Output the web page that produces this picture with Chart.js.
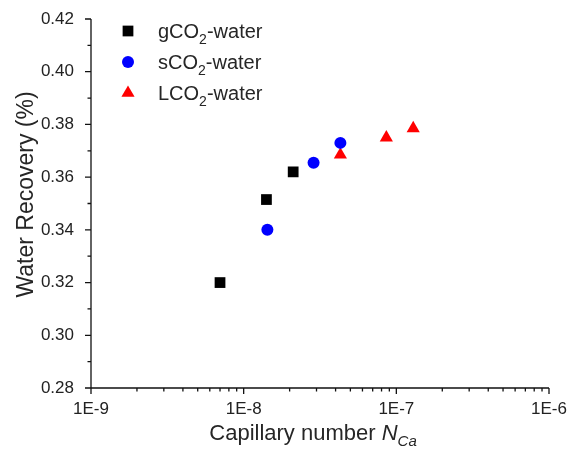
<!DOCTYPE html>
<html>
<head>
<meta charset="utf-8">
<script src="https://cdn.jsdelivr.net/npm/chart.js@4/dist/chart.umd.min.js"></script>
<style>
  html, body { margin: 0; padding: 0; background: #fff; }
  #wrap { width: 571px; height: 452px; position: relative; }
</style>
</head>
<body>
<div id="wrap"><canvas id="c"></canvas></div>
<script>
// Water recovery vs. capillary number for three CO2 phases
const seriesNames = ['gCO2-water', 'sCO2-water', 'LCO2-water'];

const gCO2Ca = [7.0e-9, 1.41e-8, 2.11e-8];
const gCO2Recovery = [0.320, 0.3515, 0.362];

const sCO2Ca = [1.43e-8, 2.87e-8, 4.3e-8];
const sCO2Recovery = [0.340, 0.3655, 0.373];

const LCO2Ca = [4.3e-8, 8.6e-8, 1.29e-7];
const LCO2Recovery = [0.3685, 0.375, 0.3785];

const xMajorTicks = [1e-9, 1e-8, 1e-7, 1e-6];
const xTickLabels = ['1E-9', '1E-8', '1E-7', '1E-6'];
const xMinorMultipliers = [2, 3, 4, 5, 6, 7, 8, 9];

const yMajorTicks = [0.28, 0.30, 0.32, 0.34, 0.36, 0.38, 0.40, 0.42];
const yTickLabels = ['0.28', '0.30', '0.32', '0.34', '0.36', '0.38', '0.40', '0.42'];
const yMinorTicks = [0.29, 0.31, 0.33, 0.35, 0.37, 0.39, 0.41];

const FONT = "'Liberation Sans', Arial, sans-serif";

const xMinorTicks = [];
xMajorTicks.slice(0, -1).forEach(d => xMinorMultipliers.forEach(m => xMinorTicks.push(m * d)));

const toPoints = (xs, ys) => xs.map((x, i) => ({ x, y: ys[i] }));

// Split "xCO2-water" into normal / subscript / normal pieces
function labelParts(name) {
  const m = name.match(/^(.*CO)(2)(.*)$/);
  return m ? [[m[1], false], [m[2], true], [m[3], false]] : [[name, false]];
}

function drawRich(ctx, parts, x, y, size, subSize, italicFlags, align) {
  const widths = parts.map((p, i) => {
    ctx.font = (italicFlags && italicFlags[i] ? 'italic ' : '') + (p[1] ? subSize : size) + 'px ' + FONT;
    return ctx.measureText(p[0]).width;
  });
  const total = widths.reduce((a, b) => a + b, 0);
  let cx = align === 'center' ? x - total / 2 : x;
  parts.forEach((p, i) => {
    ctx.font = (italicFlags && italicFlags[i] ? 'italic ' : '') + (p[1] ? subSize : size) + 'px ' + FONT;
    ctx.fillText(p[0], cx, p[1] ? y + size * 0.28 : y);
    cx += widths[i];
  });
}

const axisFrame = {
  id: 'axisFrame',
  afterDraw(chart) {
    const { ctx, chartArea: a, scales: { x, y } } = chart;
    ctx.save();
    ctx.strokeStyle = '#111';
    ctx.lineWidth = 1.3;
    ctx.beginPath();
    ctx.moveTo(a.left, a.top);
    ctx.lineTo(a.left, a.bottom);
    ctx.lineTo(a.right, a.bottom);
    xMajorTicks.forEach(v => {
      const px = x.getPixelForValue(v);
      ctx.moveTo(px, a.bottom); ctx.lineTo(px, a.bottom + 6);
    });
    xMinorTicks.forEach(v => {
      const px = x.getPixelForValue(v);
      ctx.moveTo(px, a.bottom); ctx.lineTo(px, a.bottom + 3.5);
    });
    yMajorTicks.forEach(v => {
      const py = y.getPixelForValue(v);
      ctx.moveTo(a.left, py); ctx.lineTo(a.left - 6, py);
    });
    yMinorTicks.forEach(v => {
      const py = y.getPixelForValue(v);
      ctx.moveTo(a.left, py); ctx.lineTo(a.left - 3.5, py);
    });
    ctx.stroke();

    // axis titles
    ctx.fillStyle = '#262626';
    ctx.textBaseline = 'alphabetic';
    ctx.textAlign = 'left';
    drawRich(ctx, [['Capillary number ', false], ['N', false], ['Ca', true]],
      (a.left + a.right) / 2 - 7, chart.height - 12, 22, 15, [false, true, true], 'center');

    ctx.translate(27, (a.top + a.bottom) / 2 - 9);
    ctx.rotate(-Math.PI / 2);
    ctx.textAlign = 'center';
    ctx.textBaseline = 'middle';
    ctx.font = '23px ' + FONT;
    ctx.fillText('Water Recovery (%)', 0, 0);
    ctx.restore();
  }
};

const seriesKey = {
  id: 'seriesKey',
  afterDraw(chart) {
    const { ctx, chartArea: a } = chart;
    const mx = a.left + 37, my = a.top + 12, gap = 31;
    chart.data.datasets.forEach((ds, i) => {
      const yy = my + i * gap;
      ctx.save();
      ctx.fillStyle = ds.backgroundColor;
      ctx.strokeStyle = ds.backgroundColor;
      Chart.helpers.drawPoint(ctx, {
        pointStyle: ds.pointStyle, radius: ds.pointRadius, rotation: 0, borderWidth: 0
      }, mx, yy);
      ctx.fillStyle = '#262626';
      ctx.textBaseline = 'alphabetic';
      ctx.textAlign = 'left';
      drawRich(ctx, labelParts(ds.label), mx + 30, yy + 7, 20, 14, null, 'left');
      ctx.restore();
    });
  }
};

new Chart(document.getElementById('c'), {
  type: 'scatter',
  data: {
    datasets: [
      { label: seriesNames[0], data: toPoints(gCO2Ca, gCO2Recovery),
        pointStyle: 'rect', pointRadius: 7.6, backgroundColor: '#000000', borderWidth: 0 },
      { label: seriesNames[1], data: toPoints(sCO2Ca, sCO2Recovery),
        pointStyle: 'circle', pointRadius: 6, backgroundColor: '#0000ff', borderWidth: 0 },
      { label: seriesNames[2], data: toPoints(LCO2Ca, LCO2Recovery),
        pointStyle: 'triangle', pointRadius: 7.6, backgroundColor: '#ff0000', borderWidth: 0 }
    ]
  },
  options: {
    responsive: true,
    maintainAspectRatio: false,
    animation: false,
    devicePixelRatio: 1,
    layout: { padding: { top: 19, right: 22, left: 0, bottom: 0 } },
    plugins: { legend: { display: false }, tooltip: { enabled: false } },
    scales: {
      x: {
        type: 'logarithmic',
        min: 1e-9, max: 1e-6,
        grid: { display: false, drawTicks: false },
        border: { display: false },
        afterBuildTicks: s => { s.ticks = xMajorTicks.map(v => ({ value: v, major: true })); },
        afterFit: s => { s.height = 64; s.paddingLeft = 0; s.paddingRight = 0; },
        ticks: {
          autoSkip: false, maxRotation: 0, padding: 11, color: '#222',
          font: { family: FONT, size: 17 },
          callback: (v, i) => xTickLabels[i]
        }
      },
      y: {
        type: 'linear',
        min: 0.28, max: 0.42,
        grid: { display: false, drawTicks: false },
        border: { display: false },
        afterBuildTicks: s => { s.ticks = yMajorTicks.map(v => ({ value: v })); },
        afterFit: s => { s.width = 91; s.paddingTop = 0; s.paddingBottom = 0; },
        ticks: {
          autoSkip: false, padding: 17, color: '#222',
          font: { family: FONT, size: 17 },
          callback: (v, i) => yTickLabels[i]
        }
      }
    }
  },
  plugins: [axisFrame, seriesKey]
});
</script>
</body>
</html>
